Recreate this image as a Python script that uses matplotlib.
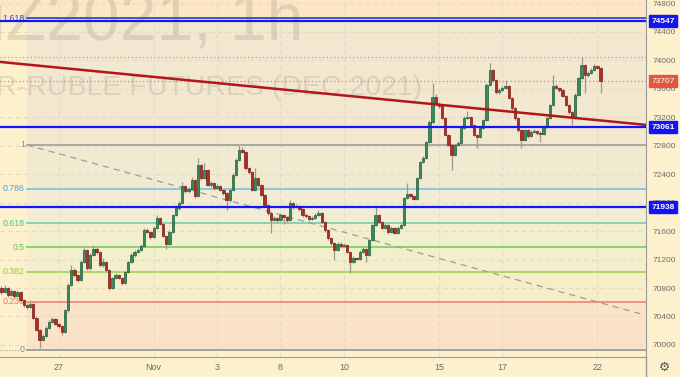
import matplotlib
matplotlib.use("Agg")
import matplotlib.pyplot as plt
import matplotlib.transforms as mtransforms

# ---- data (hourly candles, SiZ2021) ----
first_open = 70800
closes = [70745, 70800, 70705, 70760, 70690, 70745, 70630, 70560, 70535, 70575,
          70380, 70210, 70070, 70125, 70240, 70325, 70365, 70295, 70265, 70185,
          70490, 70845, 71055, 70985, 70915, 71165, 71335, 71080, 71265, 71350,
          71305, 71125, 71165, 71055, 70800, 70940, 70985, 70940, 70870, 71025,
          71165, 71265, 71305, 71335, 71390, 71615, 71590, 71515, 71645, 71785,
          71700, 71530, 71420, 71590, 71825, 71925, 71995, 72235, 72165, 72190,
          72320, 72095, 72530, 72345, 72460, 72250, 72275, 72205, 72235, 72180,
          72135, 72035, 72180, 72390, 72600, 72740, 72710, 72485, 72430, 72180,
          72345, 72250, 72110, 71965, 71855, 71755, 71785, 71755, 71825, 71800,
          71755, 71995, 71940, 71955, 71910, 71825, 71810, 71770, 71785, 71825,
          71855, 71730, 71615, 71505, 71435, 71335, 71420, 71390, 71405, 71305,
          71165, 71220, 71210, 71305, 71350, 71265, 71475, 71685, 71825, 71730,
          71645, 71685, 71590, 71645, 71575, 71645, 71685, 72065, 72120, 72095,
          72050, 72345, 72570, 72625, 72850, 73135, 73485, 73385, 73360, 73190,
          72950, 72810, 72670, 72810, 72840, 73050, 73190, 73205, 73090, 72950,
          72920, 73050, 73160, 73655, 73865, 73725, 73555, 73585, 73610, 73640,
          73470, 73330, 73190, 73020, 72880, 73020, 72935, 72995, 73005, 72980,
          72965, 73065, 73190, 73370, 73640, 73610, 73585, 73500, 73370, 73275,
          73190, 73515, 73750, 73935, 73795, 73820, 73865, 73920, 73890, 73707]
highs = [70830, 70840, 70820, 70785, 70775, 70770, 70760, 70650, 70590, 70600,
         70590, 70400, 70230, 70150, 70260, 70345, 70395, 70375, 70310, 70280,
         70510, 70870, 71125, 71080, 71000, 71190, 71365, 71350, 71290, 71405,
         71370, 71320, 71220, 71180, 71070, 70960, 71010, 71000, 70950, 71045,
         71185, 71290, 71330, 71360, 71420, 71640, 71640, 71600, 71670, 71825,
         71800, 71715, 71545, 71610, 71845, 71950, 72020, 72290, 72250, 72215,
         72360, 72335, 72625, 72545, 72555, 72475, 72300, 72290, 72260, 72250,
         72195, 72150, 72200, 72410, 72625, 72810, 72775, 72725, 72500, 72445,
         72485, 72360, 72265, 72125, 71980, 71870, 71810, 71800, 71850, 71840,
         71815, 72035, 72010, 71980, 71970, 71925, 71850, 71830, 71810, 71850,
         71890, 71870, 71745, 71630, 71520, 71450, 71450, 71440, 71430, 71420,
         71320, 71245, 71240, 71330, 71375, 71365, 71495, 71705, 71940, 71840,
         71745, 71710, 71700, 71670, 71660, 71665, 71710, 72085, 72275, 72140,
         72110, 72365, 72590, 72650, 72870, 73160, 73680, 73520, 73410, 73380,
         73205, 72965, 72825, 72830, 72870, 73070, 73215, 73290, 73220, 73105,
         72970, 73070, 73180, 73675, 73960, 73880, 73740, 73610, 73640, 73725,
         73655, 73485, 73345, 73205, 73035, 73040, 73035, 73020, 73035, 73025,
         73000, 73090, 73210, 73390, 73795, 73665, 73630, 73600, 73515, 73390,
         73290, 73535, 73770, 74045, 73950, 73850, 73890, 73940, 73935, 73900]
lows = [70720, 70730, 70680, 70690, 70665, 70675, 70610, 70540, 70510, 70520,
        70360, 70190, 69955, 70050, 70110, 70225, 70310, 70280, 70245, 70140,
        70170, 70470, 70830, 70960, 70890, 70900, 71150, 71060, 71060, 71250,
        71280, 71100, 71100, 71030, 70770, 70785, 70920, 70920, 70845, 70855,
        71010, 71150, 71240, 71290, 71320, 71375, 71570, 71495, 71500, 71630,
        71680, 71510, 71350, 71400, 71575, 71810, 71900, 71980, 72140, 72140,
        72170, 72070, 72080, 72320, 72330, 72230, 72225, 72180, 72190, 72160,
        72110, 71895, 72010, 72165, 72375, 72585, 72690, 72460, 72400, 72160,
        72165, 72225, 72090, 71945, 71830, 71575, 71735, 71730, 71740, 71700,
        71730, 71740, 71915, 71925, 71885, 71800, 71790, 71745, 71750, 71765,
        71810, 71710, 71590, 71480, 71410, 71195, 71320, 71370, 71375, 71285,
        71010, 71150, 71190, 71195, 71290, 71165, 71250, 71460, 71670, 71710,
        71625, 71625, 71560, 71570, 71555, 71560, 71630, 71670, 72050, 72070,
        72030, 72035, 72330, 72550, 72610, 72835, 73120, 73360, 73330, 73170,
        72930, 72790, 72460, 72650, 72790, 72825, 73035, 73175, 73070, 72930,
        72770, 72905, 73035, 73145, 73640, 73700, 73530, 73530, 73565, 73595,
        73450, 73300, 73165, 72995, 72770, 72860, 72910, 72920, 72975, 72955,
        72850, 72950, 73050, 73175, 73355, 73590, 73560, 73480, 73350, 73250,
        73090, 73175, 73500, 73735, 73540, 73770, 73800, 73850, 73870, 73540]

session_days = ["25", "26", "27", "28", "29", "Nov", "2", "3", "5", "8", "9",
                "10", "11", "12", "15", "16", "17", "18", "19", "22"]
labeled_days = ["27", "Nov", "3", "8", "10", "15", "17", "22"]
bars_per_day = 10

price_ticks = list(range(70000, 74801, 400))

fib_low, fib_high = 69930, 72810
fib_ratios = [0, 0.236, 0.382, 0.5, 0.618, 0.786, 1, 1.618]
fib_names = ["0", "0.236", "0.382", "0.5", "0.618", "0.786", "1", "1.618"]
fib_start_bar = 8

level_lines = [74547, 73061, 71938]
last_price = 73707
range_high = 74040
trend_pts = [(0, 73974), (200, 73106)]
diag_pts = [(8, 72810), (203, 70420)]

# ---- style ----
BG = "#fdf0cd"
fib_line_colors = ["#9a9a9a", "#ec8a7e", "#a6d45a", "#7fcf6e", "#7dd3a8", "#7cc6e6", "#a8a49c", "#3346d8"]
fib_text_colors = ["#8a8a8a", "#e2776b", "#98c94a", "#63bf58", "#52c38c", "#49a8d8", "#8a8a8a", "#3a49c4"]
fib_fill_colors = ["#fbe3c7", "#f7eec9", "#f4efcb", "#f2efcf", "#f1ecd3", "#f2e9d1", "#f2e7cf"]

plt.rcParams['font.family'] = ['Liberation Sans', 'DejaVu Sans']

fig = plt.figure(figsize=(6.8, 3.77), dpi=100, facecolor=BG)
ax = fig.add_axes([0, 20 / 377, 646 / 680, 357 / 377])
ax.set_facecolor(BG)
px_per_bar = 3.17
x_end = -0.47 + 646 / px_per_bar
ax.set_xlim(-0.47, x_end)
ax.set_ylim(69831, 74846)

# fib zones
fx = (fib_start_bar + 0.47) / (646 / px_per_bar)
fib_prices = [fib_low + r * (fib_high - fib_low) for r in fib_ratios]
for k in range(len(fib_prices) - 1):
    ax.axhspan(fib_prices[k], fib_prices[k + 1], xmin=fx, xmax=1,
               color=fib_fill_colors[k], lw=0, zorder=0)
ax.axhspan(fib_prices[-1], 74846, color="#fce6c6", lw=0, zorder=0)

# grid
tick_pos = [session_days.index(d) * bars_per_day - 2 for d in labeled_days]
for p in price_ticks:
    ax.axhline(p, color="#e4dac6", lw=0.8, ls=(0, (4, 3)), zorder=0.5)
for t in tick_pos:
    ax.axvline(t, color="#e4dac6", lw=0.8, ls=(0, (4, 3)), zorder=0.5)

# watermark
ax.text(303 / 646, 1 - 40 / 357, "SiZ2021, 1h", transform=ax.transAxes,
        ha="right", va="baseline", fontsize=47.5, color="#8c8270", alpha=0.22, zorder=1)
ax.text(422 / 646, 1 - 95 / 357, "US DOLLAR-RUBLE FUTURES (DEC 2021)", transform=ax.transAxes,
        ha="right", va="baseline", fontsize=20.5, color="#8c8270", alpha=0.22, zorder=1)

# fib levels
for price, name, lc, tc in zip(fib_prices, fib_names, fib_line_colors, fib_text_colors):
    ax.plot([fib_start_bar, x_end], [price, price], color=lc, lw=1.3, zorder=2)
    ax.text(fib_start_bar - 0.6, price, name, ha="right", va="center",
            fontsize=6.3, color=tc, zorder=2)
ax.plot([-0.47, fib_start_bar - 2.6], [fib_low, fib_low], color="#9a9a9a", lw=0.8, ls=":", zorder=2)

# dashed diagonal
ax.plot([diag_pts[0][0], diag_pts[1][0]], [diag_pts[0][1], diag_pts[1][1]],
        color="#a09c94", lw=0.9, ls=(0, (5, 4)), zorder=2)

# dotted lines
ax.axhline(range_high, color="#a8a49a", lw=0.9, ls=(0, (1, 2)), zorder=2)
ax.axhline(last_price, color="#e08070", lw=0.9, ls=(0, (1, 2)), zorder=2)

# candles
opens = [first_open] + closes[:-1]
xs = list(range(len(closes)))
ax.vlines(xs, lows, highs, color="#9c9890", lw=0.9, zorder=3)
for x, o, c in zip(xs, opens, closes):
    up = c >= o
    fc = "#3a8a5c" if up else "#b12e24"
    ec = "#1f5c3b" if up else "#7d1a12"
    h = max(abs(c - o), 8)
    ax.bar(x, h, bottom=min(o, c), width=0.72, color=fc, edgecolor=ec, lw=0.5, zorder=3)

# trend line and horizontal levels
slope = (trend_pts[1][1] - trend_pts[0][1]) / (trend_pts[1][0] - trend_pts[0][0])
ax.plot([-1, x_end],
        [trend_pts[0][1] + slope * (-1 - trend_pts[0][0]),
         trend_pts[0][1] + slope * (x_end - trend_pts[0][0])],
        color="#b3151b", lw=1.8, zorder=4)
for lv in level_lines:
    ax.axhline(lv, color="#1616f5", lw=1.6, zorder=4)

# axes styling
for s in ["top", "left"]:
    ax.spines[s].set_visible(False)
ax.spines["right"].set_color("#9a9a9a")
ax.spines["bottom"].set_color("#9a9a9a")
ax.yaxis.tick_right()
ax.set_yticks(price_ticks)
ax.set_yticklabels([str(p) for p in price_ticks])
ax.tick_params(axis="y", length=0, pad=5, labelsize=6, labelcolor="#6e6e6e")
ax.set_xticks(tick_pos)
ax.set_xticklabels(labeled_days)
ax.tick_params(axis="x", length=0, pad=4, labelsize=6.5, labelcolor="#6e6e6e")

# price boxes
trans = mtransforms.blended_transform_factory(ax.transAxes, ax.transData)
for lv in level_lines:
    ax.text(1.008, lv, str(lv), transform=trans, ha="left", va="center", fontsize=6,
            color="white", fontweight="bold", zorder=10, clip_on=False,
            bbox=dict(boxstyle="square,pad=0.3", fc="#1414f0", ec="#1414f0"))
ax.text(1.008, last_price, str(last_price), transform=trans, ha="left", va="center", fontsize=6,
        color="white", zorder=10, clip_on=False,
        bbox=dict(boxstyle="square,pad=0.3", fc="#e0563f", ec="#e0563f"))

fig.add_artist(plt.Line2D([646 / 680, 646 / 680], [0, 20 / 377], color="#9a9a9a", lw=1))
fig.text(664 / 680, 10 / 377, "\u2699", ha="center", va="center", fontsize=9,
         color="#555555", family=["DejaVu Sans"])

fig.savefig("out.png", dpi=100, facecolor=BG)
